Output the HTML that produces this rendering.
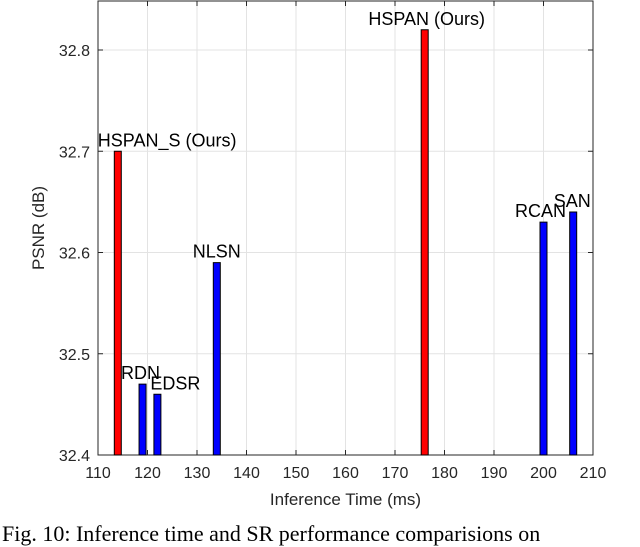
<!DOCTYPE html>
<html><head><meta charset="utf-8">
<style>
body{margin:0;background:#fff;width:640px;height:545px;overflow:hidden;font-family:"Liberation Sans",sans-serif}
svg text{font-family:"Liberation Sans",sans-serif}
.cap{position:absolute;left:2px;top:521px;font-family:"Liberation Serif",serif;font-size:22px;white-space:nowrap;color:#000;line-height:26px}
</style></head><body>
<svg id="chart" width="640" height="545" style="position:absolute;left:0;top:0"></svg>
<div class="cap">Fig. 10: Inference time and SR performance comparisions on</div>
<script>
const models=["HSPAN_S (Ours)","RDN","EDSR","NLSN","HSPAN (Ours)","RCAN","SAN"];
const times=[114,119,122,134,176,200,206];
const psnr=[32.70,32.47,32.46,32.59,32.82,32.63,32.64];
const ours=[true,false,false,false,true,false,false];
const xTicks=[110,120,130,140,150,160,170,180,190,200,210];
const yTicks=[32.4,32.5,32.6,32.7,32.8];
const labelAnchor=['start','middle','start','middle','middle','middle','middle'];
const labelDx=[-20,-2,-7,0,2,-3,-1];
const L=98,R=593,T=1,B=455;
const x=v=>L+(v-110)/100*(R-L);
const y=v=>B-(v-32.4)/0.4*(B-50);
const svg=document.getElementById('chart');
const NS="http://www.w3.org/2000/svg";
function mk(t,a){const e=document.createElementNS(NS,t);for(const k in a)e.setAttribute(k,a[k]);svg.appendChild(e);return e;}
xTicks.forEach(t=>{
 const g=mk('line',{x1:x(t),x2:x(t),y1:T,y2:B,stroke:'#e3e3e3','stroke-width':1});
 
 
 const tx=mk('text',{x:x(t),y:B+23,'text-anchor':'middle','font-size':16,fill:'#262626'});tx.textContent=t;
 
 
 mk('line',{x1:x(t),x2:x(t),y1:B,y2:B-5,stroke:'#262626'});
 mk('line',{x1:x(t),x2:x(t),y1:T,y2:T+5,stroke:'#262626'});
});
yTicks.forEach(t=>{
 const g=mk('line',{x1:L,x2:R,y1:y(t),y2:y(t),stroke:'#e3e3e3','stroke-width':1});
 
 
 const tx=mk('text',{x:L-8,y:y(t)+6,'text-anchor':'end','font-size':16,fill:'#262626'});tx.textContent=t.toFixed(1);
 
 
 mk('line',{x1:L,x2:L+5,y1:y(t),y2:y(t),stroke:'#262626'});
 mk('line',{x1:R,x2:R-5,y1:y(t),y2:y(t),stroke:'#262626'});
});
const box=mk('rect',{x:L,y:T,width:R-L,height:B-T,fill:'none',stroke:'#262626','stroke-width':1});


const bw=7;
models.forEach((m,i)=>{
 const r=mk('rect',{x:x(times[i])-bw/2,y:y(psnr[i]),width:bw,height:B-y(psnr[i]),fill:ours[i]?'#ff0000':'#0000ff',stroke:'#000','stroke-width':1});
 
 
 const t=mk('text',{x:x(times[i])+labelDx[i],y:y(psnr[i])-5,'text-anchor':labelAnchor[i],'font-size':18,fill:'#000'});t.textContent=m;
 
 
});
const xl=mk('text',{x:(L+R)/2,y:505,'text-anchor':'middle','font-size':17,fill:'#262626'});xl.textContent='Inference Time (ms)';


const yl=mk('text',{x:0,y:0,'text-anchor':'middle','font-size':17,fill:'#262626',transform:`translate(44,${(T+B)/2}) rotate(-90)`});yl.textContent='PSNR (dB)';


</script>
</body></html>
